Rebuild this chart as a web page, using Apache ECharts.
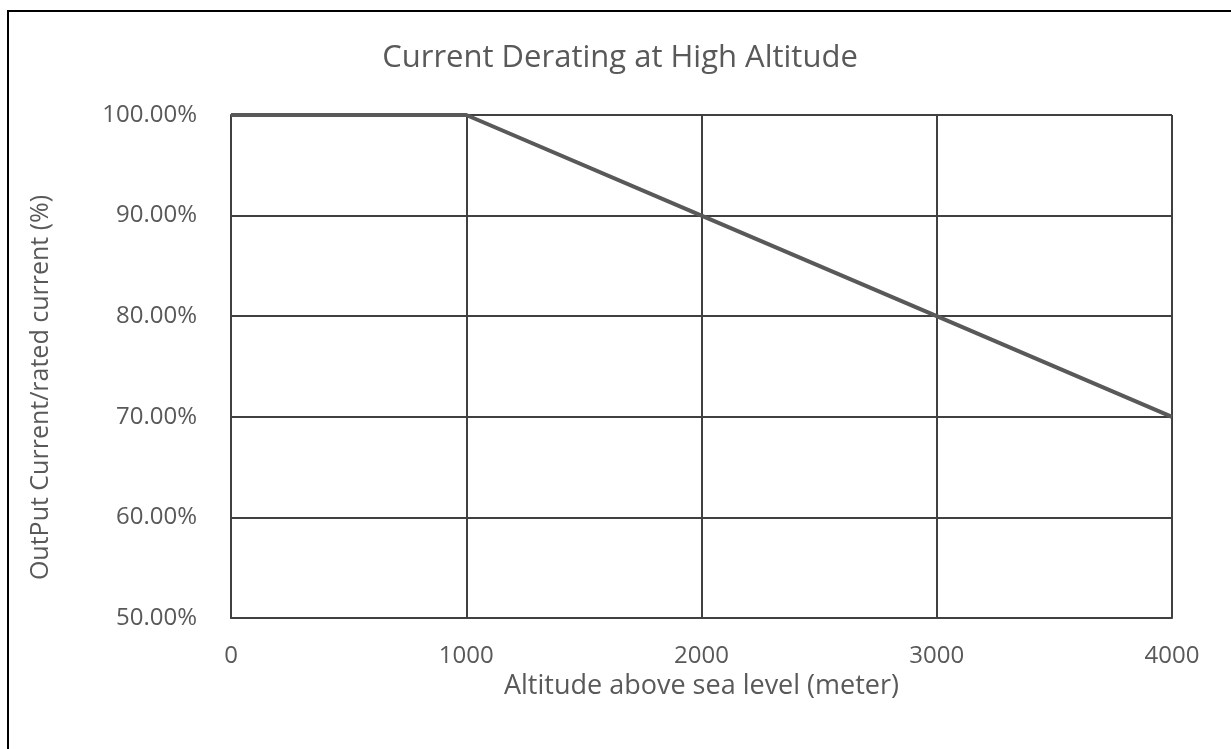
<!DOCTYPE html>
<html><head><meta charset="utf-8">
<script src="https://cdn.jsdelivr.net/npm/echarts@6/dist/echarts.min.js"></script>
<style>html,body{margin:0;padding:0;background:#fff}#c{width:1231px;height:749px}</style>
</head><body><div id="c"></div>
<script>
const altitudes = [0, 1000, 2000, 3000, 4000];
const currentPct = [100, 100, 90, 80, 70];
const xTicks = [0, 1000, 2000, 3000, 4000];
const yTicks = [50, 60, 70, 80, 90, 100];
const titleText = 'Current Derating at High Altitude';
const xName = 'Altitude above sea level (meter)';
const yName = 'OutPut Current/rated current (%)';

const font = '"Open Sans", "Liberation Sans", sans-serif';
const chart = echarts.init(document.getElementById('c'));
chart.setOption({
  animation: false,
  backgroundColor: '#fff',
  title: { text: titleText, left: 615, top: 38, textAlign: 'center',
    textStyle: { fontFamily: font, fontSize: 31, fontWeight: 'normal', color: '#595959' } },
  graphic: [{ type: 'rect', shape: { x: 8, y: 11, width: 1400, height: 900 },
    style: { fill: 'none', stroke: '#000', lineWidth: 2 }, silent: true }],
  grid: { left: 231, right: 59, top: 115, bottom: 131 },
  xAxis: { type: 'value', min: 0, max: 4000, interval: 1000,
    name: xName, nameLocation: 'middle', nameGap: 50,
    nameTextStyle: { fontFamily: font, fontSize: 27, color: '#595959' },
    axisLine: { show: true, lineStyle: { color: '#404040', width: 2 } },
    axisTick: { show: false },
    axisLabel: { fontFamily: font, fontSize: 24, color: '#595959', margin: 26,
      formatter: v => xTicks.includes(v) ? String(v) : '' },
    splitLine: { show: true, lineStyle: { color: '#404040', width: 2 } } },
  yAxis: { type: 'value', min: 50, max: 100, interval: 10,
    name: yName, nameLocation: 'middle', nameGap: 178, nameRotate: 90,
    nameTextStyle: { fontFamily: font, fontSize: 25, color: '#595959', padding: [0, 42, 0, 0] },
    axisLine: { show: true, lineStyle: { color: '#404040', width: 2 } },
    axisTick: { show: false },
    axisLabel: { fontFamily: font, fontSize: 24, color: '#595959', margin: 34,
      formatter: v => yTicks.includes(v) ? v.toFixed(2) + '%' : '' },
    splitLine: { show: true, lineStyle: { color: '#404040', width: 2 } } },
  series: [{ type: 'line', data: altitudes.map((a, i) => [a, currentPct[i]]),
    symbol: 'none', lineStyle: { color: '#595959', width: 4 } }]
});
</script></body></html>
